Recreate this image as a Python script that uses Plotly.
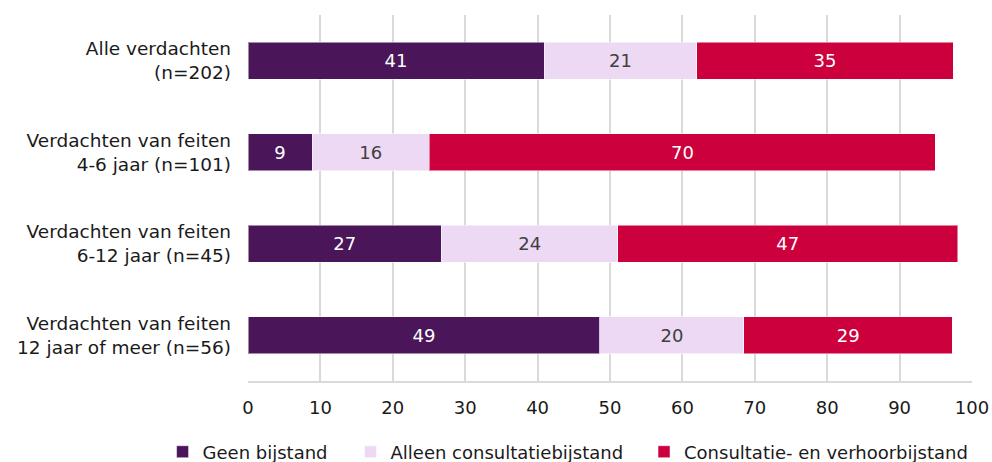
import plotly.graph_objects as go

categories = [
    "Alle verdachten<br>(n=202)",
    "Verdachten van feiten<br>4-6 jaar (n=101)",
    "Verdachten van feiten<br>6-12 jaar (n=45)",
    "Verdachten van feiten<br>12 jaar of meer (n=56)",
]
series_names = ["Geen bijstand", "Alleen consultatiebijstand", "Consultatie- en verhoorbijstand"]
geen = [40.9, 8.85, 26.7, 48.6]
alleen = [21.1, 16.2, 24.4, 19.9]
consult = [35.4, 69.9, 46.9, 28.8]
labels_geen = ["41", "9", "27", "49"]
labels_alleen = ["21", "16", "24", "20"]
labels_consult = ["35", "70", "47", "29"]
tick_vals = [0, 10, 20, 30, 40, 50, 60, 70, 80, 90, 100]

colors = ["#4A1559", "#EED9F4", "#CC003D"]
text_colors = ["#FFFFFF", "#404040", "#FFFFFF"]
legend_ids = ["legend", "legend2", "legend3"]
legend_x = [-0.118, 0.1416, 0.547]
FONT = "DejaVu Sans"

fig = go.Figure()
for name, vals, labs, col, tcol, lid in zip(series_names, [geen, alleen, consult],
                                            [labels_geen, labels_alleen, labels_consult],
                                            colors, text_colors, legend_ids):
    fig.add_trace(go.Bar(
        y=categories, x=vals, name=name, orientation="h",
        marker=dict(color=col, line=dict(color="rgba(255,255,255,0.5)", width=1)),
        text=labs, textposition="inside", insidetextanchor="middle",
        textfont=dict(family=FONT, size=18, color=tcol),
        hoverinfo="x+name", legend=lid, showlegend=True,
    ))

legend_common = dict(orientation="h", xanchor="left", y=-0.194, yanchor="middle",
                     font=dict(family=FONT, size=18, color="#1a1a1a"),
                     itemwidth=30, bgcolor="rgba(0,0,0,0)")

fig.update_layout(
    showlegend=True,
    barmode="stack",
    bargap=0.6,
    width=992, height=462,
    margin=dict(l=248, r=20, t=15, b=81, autoexpand=False),
    plot_bgcolor="white", paper_bgcolor="white",
    font=dict(family=FONT, size=18, color="#1a1a1a"),
    uniformtext=dict(mode=False),
    legend=dict(x=legend_x[0], **legend_common),
    legend2=dict(x=legend_x[1], **legend_common),
    legend3=dict(x=legend_x[2], **legend_common),
    xaxis=dict(range=[0, 100], tickvals=tick_vals, showgrid=True, gridcolor="#D9D9D9",
               gridwidth=1.5, zeroline=False, showline=True, linecolor="#D9D9D9", linewidth=1.5,
               ticks="", tickfont=dict(family=FONT, size=18, color="#1a1a1a"),
               ticklabelstandoff=10, automargin=False, fixedrange=True),
    yaxis=dict(autorange="reversed", showgrid=False, ticks="", showline=False,
               tickfont=dict(family=FONT, size=18.5, color="#1a1a1a"),
               ticklabelstandoff=16, automargin=False, fixedrange=True),
)

# remove the default 8px page margin so the 992x462 figure fills the window exactly
fig.write_html("out.html",
               config={"displayModeBar": False},
               post_script="document.body.style.margin='0';document.body.style.overflow='hidden';")
